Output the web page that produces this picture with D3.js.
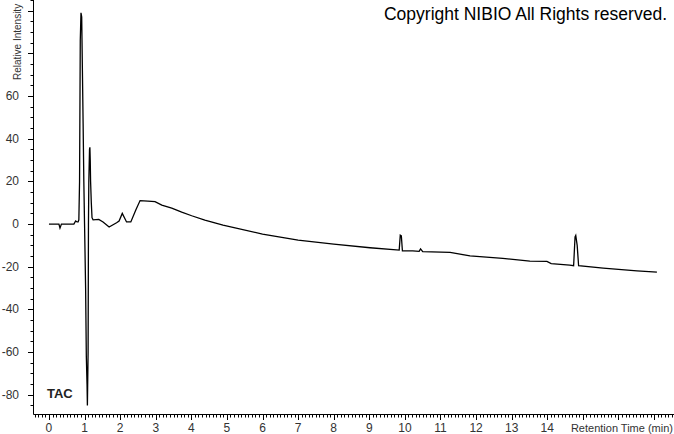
<!DOCTYPE html>
<html><head><meta charset="utf-8">
<script src="https://cdn.jsdelivr.net/npm/d3@7"></script>
<style>body{margin:0;background:#fff}svg{display:block}</style>
</head><body>
<script>
const times = [0,0.22,0.28,0.31,0.35,0.70,0.75,0.79,0.82,0.84,0.86,0.88,0.90,0.92,0.94,0.96,0.98,1.00,1.03,1.05,1.07,1.08,1.10,1.11,1.12,1.14,1.15,1.16,1.17,1.19,1.21,1.24,1.40,1.52,1.69,1.90,1.97,2.06,2.18,2.30,2.44,2.56,2.78,2.98,3.17,3.45,3.73,4.01,4.38,4.89,6.0,7.0,8.0,9.02,9.84,9.87,9.90,9.93,10.22,10.40,10.44,10.50,11.27,11.83,12.75,13.51,13.99,14.11,14.63,14.74,14.78,14.80,14.84,14.88,15.57,16.52,17.08];
const intensity = [0,0,0,-1.9,0,0,1.5,1,1,2,20,86,99,97,72,47,20,0,-30,-62,-75,-85,-60,0,20,35,36,30,20,10,3,2,2.2,1,-1.4,0.6,1.4,5,1,1,6.6,11,10.8,10.5,8.9,7.5,5.6,3.9,1.9,-0.5,-4.7,-7.5,-9.4,-11.1,-12.2,-5.2,-5.5,-12.5,-12.6,-12.8,-11.6,-12.9,-13.3,-14.9,-16.1,-17.4,-17.5,-18.5,-19.2,-19.5,-6,-5.3,-10,-19.5,-20.6,-21.9,-22.5];
const xTickLabels = [0,1,2,3,4,5,6,7,8,9,10,11,12,13,14];
const yTickLabels = [-80,-60,-40,-20,0,20,40,60];

const W = 674, H = 434;
const svg = d3.select("body").append("svg").attr("width", W).attr("height", H);
const x = d3.scaleLinear().domain([-0.42, 17.56]).range([34, 674]);
const y = d3.scaleLinear().domain([-89, 105]).range([414, 0]);
const font = "Liberation Sans, Arial, sans-serif";

// axes lines
svg.append("line").attr("x1",33.5).attr("x2",33.5).attr("y1",0).attr("y2",414.5).attr("stroke","#000");
svg.append("line").attr("x1",33.5).attr("x2",674).attr("y1",414.5).attr("y2",414.5).attr("stroke","#000");

// x ticks
const xMinor = d3.range(-4, 176).map(i => i/10);
svg.append("g").selectAll("line").data(xMinor).join("line")
  .attr("x1", d => Math.round(x(d))+0.5).attr("x2", d => Math.round(x(d))+0.5)
  .attr("y1", 414.5).attr("y2", d => Math.abs(d - Math.round(d)) < 1e-6 ? 420 : 417.5)
  .attr("stroke", "#000");
svg.append("g").selectAll("text").data(xTickLabels).join("text")
  .attr("x", d => x(d)).attr("y", 432).attr("text-anchor","middle")
  .attr("font-family", font).attr("font-size", 12).attr("fill","#333").text(d => d);
svg.append("text").attr("x", 673).attr("y", 432).attr("text-anchor","end")
  .attr("font-family", font).attr("font-size", 11).attr("fill","#333").text("Retention Time (min)");

// y ticks
const yMinor = d3.range(-85, 106, 5);
svg.append("g").selectAll("line").data(yMinor).join("line")
  .attr("y1", d => Math.round(y(d))+0.5).attr("y2", d => Math.round(y(d))+0.5)
  .attr("x1", d => d % 20 === 0 ? 28 : 30.5).attr("x2", 33.5)
  .attr("stroke", "#000");
svg.append("g").selectAll("text").data(yTickLabels).join("text")
  .attr("x", 19).attr("y", d => y(d) + 4).attr("text-anchor","end")
  .attr("font-family", font).attr("font-size", 12).attr("fill","#333").text(d => d);
svg.append("text").attr("transform","translate(21,80) rotate(-90)").attr("text-anchor","start")
  .attr("font-family", font).attr("font-size", 10).attr("fill","#333").text("Relative Intensity");

// trace
const pts = times.map((t,i) => [t, intensity[i]]);
svg.append("path").datum(pts)
  .attr("d", d3.line().x(d => x(d[0])).y(d => y(d[1])))
  .attr("fill","none").attr("stroke","#000").attr("stroke-width",1.3);

svg.append("text").attr("x", 667).attr("y", 20).attr("text-anchor","end")
  .attr("font-family", font).attr("font-size", 17.5).attr("fill","#000").text("Copyright NIBIO All Rights reserved.");
svg.append("text").attr("x", 47).attr("y", 398)
  .attr("font-family", font).attr("font-size", 13).attr("font-weight","bold").attr("fill","#222").text("TAC");
</script>
</body></html>
